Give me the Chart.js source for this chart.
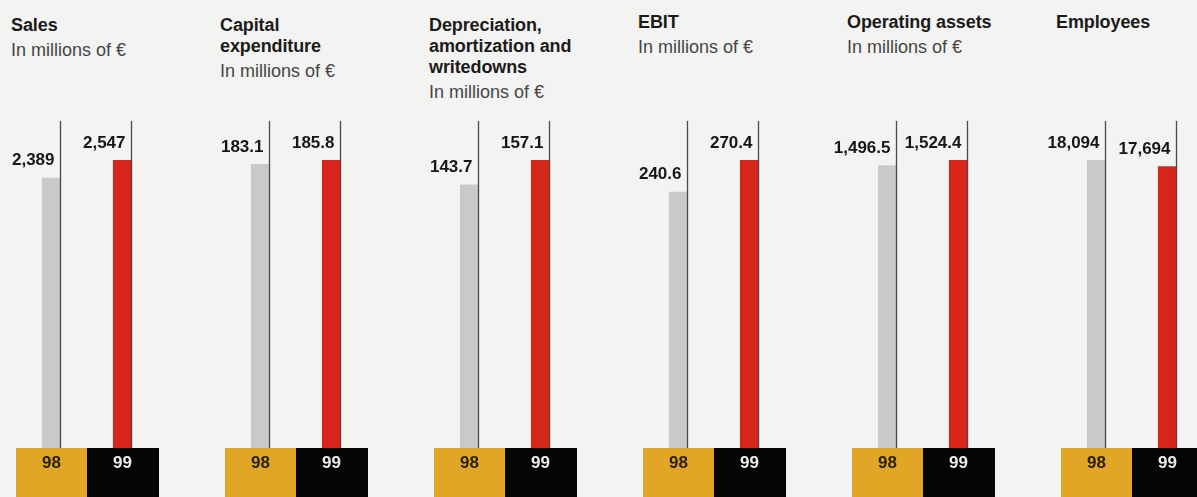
<!DOCTYPE html>
<html>
<head>
<meta charset="utf-8">
<title>Key figures 98/99</title>
<script src="https://cdn.jsdelivr.net/npm/chart.js@4.4.1/dist/chart.umd.min.js"></script>
<style>
  html, body { margin: 0; background: #f3f3f1; }
  #wrap { position: relative; width: 1197px; height: 497px; overflow: hidden;
          font-family: "Liberation Sans", Arial, Helvetica, sans-serif; }
  .panel { position: absolute; top: 0; width: 209px; height: 497px; }
  .panel canvas { position: absolute; left: 0; top: 0; }
  .ttl { position: absolute; left: 25px; top: 15px; font-size: 18px; line-height: 21px;
         font-weight: bold; color: #1b1b1b; letter-spacing: -.1px; white-space: nowrap; }
  .ttl.hi { top: 12px; }
  .ttl .sub { display: block; margin-top: 4px; font-weight: normal; color: #454545; letter-spacing: 0; }
</style>
</head>
<body>
<div id="wrap"></div>
<script>
// Kennzahlen: je Panel ein Balkenpaar 98 / 99, jeweils eigene Skala
const TITLES = [
  ['Sales'],
  ['Capital', 'expenditure'],
  ['Depreciation,', 'amortization and', 'writedowns'],
  ['EBIT'],
  ['Operating assets'],
  ['Employees'],
];
const UNITS = ['In millions of €', 'In millions of €', 'In millions of €', 'In millions of €', 'In millions of €', ''];
const YEARS = ['98', '99'];
const VALUES_98 = [2389, 183.1, 143.7, 240.6, 1496.5, 18094];
const VALUES_99 = [2547, 185.8, 157.1, 270.4, 1524.4, 17694];
const DECIMALS = [0, 1, 1, 1, 1, 0];

const GRAY = '#c9c9c7';
const RED = '#d8251b';
const BOX_FILL = ['#e1a626', '#050505'];
const BOX_TEXT = ['#2a2110', '#ececec'];
const FONT = '"Liberation Sans", Arial, Helvetica, sans-serif';

// Jahreskästchen unter den Balken (gelb 98 / schwarz 99)
const yearBoxes = {
  id: 'yearBoxes',
  afterDraw(chart) {
    const { ctx, chartArea, scales } = chart;
    const labels = chart.data.labels;
    const w = chartArea.width / labels.length;
    ctx.save();
    ctx.font = 'bold 17px ' + FONT;
    ctx.textAlign = 'center';
    ctx.textBaseline = 'middle';
    labels.forEach((lab, i) => {
      const cx = scales.x.getPixelForValue(i);
      ctx.fillStyle = BOX_FILL[i];
      ctx.fillRect(Math.round(cx - w / 2), chartArea.bottom, Math.ceil(w) + 1, chart.height - chartArea.bottom);
      ctx.fillStyle = BOX_TEXT[i];
      ctx.fillText(lab, cx, chartArea.bottom + 15);
    });
    ctx.restore();
  },
};

// dünne Linie an der rechten Balkenkante + Wertbeschriftung links davon
const valueLabels = {
  id: 'valueLabels',
  afterDatasetsDraw(chart, args, opts) {
    const { ctx, chartArea } = chart;
    const meta = chart.getDatasetMeta(0);
    const data = chart.data.datasets[0].data;
    const nf = new Intl.NumberFormat('en-US', { minimumFractionDigits: opts.decimals, maximumFractionDigits: opts.decimals });
    ctx.save();
    meta.data.forEach((bar, i) => {
      const rx = Math.round(bar.x + bar.width / 2) - 0.5;
      ctx.strokeStyle = '#4a4a4a';
      ctx.lineWidth = 1.3;
      ctx.beginPath();
      ctx.moveTo(rx, chartArea.top);
      ctx.lineTo(rx, chartArea.bottom);
      ctx.stroke();
      ctx.fillStyle = '#161616';
      ctx.font = 'bold 17px ' + FONT;
      ctx.textAlign = 'right';
      ctx.textBaseline = 'middle';
      ctx.fillText(nf.format(data[i]), rx - 6, bar.y - 17);
    });
    ctx.restore();
  },
};

const wrap = document.getElementById('wrap');
TITLES.forEach((lines, i) => {
  const panel = document.createElement('div');
  panel.className = 'panel';
  panel.style.left = (-14 + i * 209) + 'px';

  const ttl = document.createElement('div');
  ttl.className = 'ttl' + (i >= 3 ? ' hi' : '');
  ttl.innerHTML = lines.join('<br>') + (UNITS[i] ? '<span class="sub">' + UNITS[i] + '</span>' : '');
  panel.appendChild(ttl);

  const cv = document.createElement('canvas');
  cv.width = 209;
  cv.height = 497;
  panel.appendChild(cv);
  wrap.appendChild(panel);

  const vals = [VALUES_98[i], VALUES_99[i]];
  new Chart(cv, {
    type: 'bar',
    data: {
      labels: YEARS,
      datasets: [{
        data: vals,
        backgroundColor: [GRAY, RED],
        barPercentage: 0.27,
        categoryPercentage: 1,
      }],
    },
    options: {
      responsive: false,
      animation: false,
      devicePixelRatio: 1,
      layout: { padding: { left: 30, right: 37, top: 121, bottom: 49 } },
      scales: {
        x: { display: false },
        y: { display: false, min: 0, max: Math.max(...vals) * 1.135 },
      },
      plugins: {
        legend: { display: false },
        tooltip: { enabled: false },
        valueLabels: { decimals: DECIMALS[i] },
      },
    },
    plugins: [yearBoxes, valueLabels],
  });
});
</script>
</body>
</html>
